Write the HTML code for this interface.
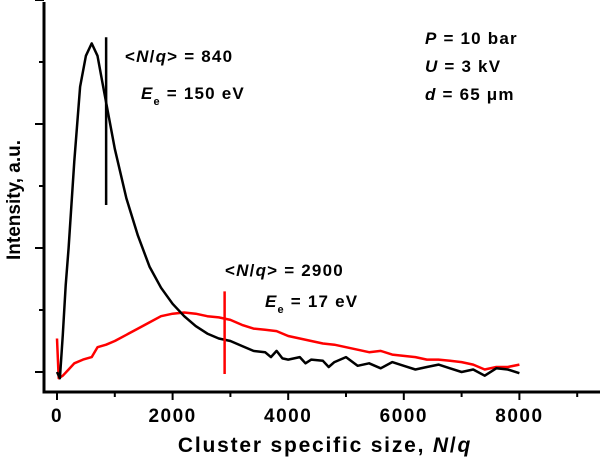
<!DOCTYPE html>
<html><head><meta charset="utf-8"><style>
body{margin:0;background:#fff;}
svg{display:block;font-family:"Liberation Sans",Arial,sans-serif;font-weight:bold;}
</style></head><body>
<svg id="c" width="601" height="459" viewBox="0 0 601 459">
<g id="axes"></g><g id="series"></g><g id="ann"></g>
</svg>
<script>
const xTicks=[0,2000,4000,6000,8000];
const xMinor=[1000,3000,5000,7000,9000];
const yMajor=[0,1,2,3];
const yMinor=[0.5,1.5,2.5];
const blackN=[0,50,100,150,200,300,400,500,600,700,800,900,1000,1200,1400,1600,1800,2000,2200,2400,2600,2800,3000,3200,3400,3600,3700,3800,3900,4000,4200,4300,4400,4600,4700,4800,5000,5200,5400,5600,5800,6000,6200,6400,6600,6800,7000,7200,7400,7600,7800,8000];
const blackI=[0.0,-0.05,0.3,0.7,1.0,1.7,2.3,2.55,2.65,2.55,2.3,2.05,1.8,1.4,1.1,0.85,0.68,0.55,0.45,0.37,0.31,0.27,0.25,0.21,0.17,0.16,0.12,0.17,0.11,0.1,0.12,0.07,0.1,0.09,0.04,0.08,0.12,0.05,0.07,0.03,0.08,0.05,0.02,0.04,0.06,0.03,0.0,0.02,-0.03,0.03,0.02,-0.01];
const redN=[0,30,100,200,300,450,600,700,850,1000,1200,1400,1600,1800,2000,2200,2400,2600,2800,3000,3200,3400,3600,3800,4000,4200,4400,4600,4800,5000,5200,5400,5600,5800,6000,6200,6400,6600,6800,7000,7200,7400,7600,7800,8000];
const redI=[0.27,-0.05,-0.03,0.02,0.07,0.1,0.12,0.2,0.22,0.25,0.3,0.35,0.4,0.45,0.47,0.48,0.47,0.45,0.44,0.42,0.38,0.35,0.34,0.33,0.29,0.27,0.25,0.23,0.22,0.2,0.18,0.16,0.17,0.14,0.13,0.12,0.1,0.1,0.09,0.08,0.06,0.02,0.04,0.04,0.06];
const markN=[850,2900];
const markTop=[2.7,0.65];

const X=v=>57+v*0.0578;
const Y=v=>372-v*124;
const NS="http://www.w3.org/2000/svg";
function mk(tag,attrs,parent){const e=document.createElementNS(NS,tag);for(const k in attrs)e.setAttribute(k,attrs[k]);parent.appendChild(e);return e;}
const ax=document.getElementById('axes'),se=document.getElementById('series'),an=document.getElementById('ann');

let e=mk('line',{x1:44,y1:2,x2:44,y2:392,stroke:'#000','stroke-width':3},ax);


e=mk('line',{x1:42.5,y1:392,x2:600,y2:392,stroke:'#000','stroke-width':3},ax);


xTicks.forEach(t=>{
  let l=mk('line',{x1:X(t),y1:392,x2:X(t),y2:400,stroke:'#000','stroke-width':2},ax);
  
  
  let tx=mk('text',{x:X(t),y:422,'text-anchor':'middle','font-size':19,'letter-spacing':1.5},ax);tx.textContent=t;
  
  
});
xMinor.forEach(t=>{
  let l=mk('line',{x1:X(t),y1:392,x2:X(t),y2:397,stroke:'#000','stroke-width':2},ax);
  
  
});
yMajor.forEach(t=>{
  let l=mk('line',{x1:35,y1:Y(t),x2:44,y2:Y(t),stroke:'#000','stroke-width':2},ax);
  
  
});
yMinor.forEach(t=>{
  let l=mk('line',{x1:39,y1:Y(t),x2:44,y2:Y(t),stroke:'#000','stroke-width':2},ax);
  
  
});
let xt=mk('text',{x:325,y:452,'text-anchor':'middle','font-size':21,'letter-spacing':1.8},ax);
xt.innerHTML='Cluster specific size, <tspan font-style="italic">N</tspan>/<tspan font-style="italic">q</tspan>';


let yt=mk('text',{x:0,y:0,'text-anchor':'middle','font-size':19,transform:'translate(20,200) rotate(-90)'},ax);
yt.textContent='Intensity, a.u.';



function line(ns,is,col,name){
  const d=ns.map((n,i)=>(i?'L':'M')+X(n).toFixed(1)+','+Y(is[i]).toFixed(1)).join(' ');
  const p=mk('path',{d:d,fill:'none',stroke:col,'stroke-width':2.5,'stroke-linejoin':'round'},se);
  
  
}
line(redN,redI,'#f00','red-series-17ev');
line(blackN,blackI,'#000','black-series-150ev');
const mcol=['#000','#f00'];
markN.forEach((n,i)=>{
  const l=mk('line',{x1:X(n),y1:Y(markTop[i]),x2:X(n),y2:i?374:205,stroke:mcol[i],'stroke-width':2.5},se);
  
  
});
function txt(x,y,html,name){const t=mk('text',{x:x,y:y,'font-size':17,'letter-spacing':1.2},an);t.innerHTML=html;
  
  }
txt(125,62,'&lt;<tspan font-style="italic">N</tspan>/<tspan font-style="italic">q</tspan>&gt; = 840','mean-label-840');
txt(141,99,'<tspan font-style="italic">E</tspan><tspan font-size="11" dy="6">e</tspan><tspan dy="-6"> = 150 eV</tspan>','energy-label-150');
txt(425,44,'<tspan font-style="italic">P</tspan> = 10 bar','pressure-label');
txt(425,72,'<tspan font-style="italic">U</tspan> = 3 kV','voltage-label');
txt(425,100,'<tspan font-style="italic">d</tspan> = 65 μm','diameter-label');
txt(225,276,'&lt;<tspan font-style="italic">N</tspan>/<tspan font-style="italic">q</tspan>&gt; = 2900','mean-label-2900');
txt(265,307,'<tspan font-style="italic">E</tspan><tspan font-size="11" dy="6">e</tspan><tspan dy="-6"> = 17 eV</tspan>','energy-label-17');
</script>
</body></html>
